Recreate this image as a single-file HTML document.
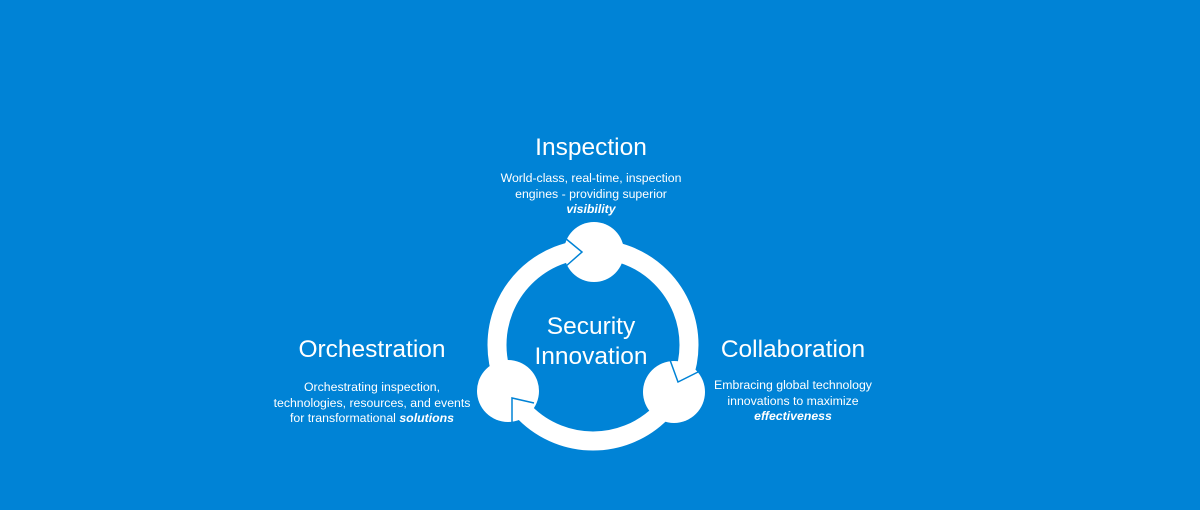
<!DOCTYPE html>
<html><head><style>
body{margin:0;width:1200px;height:510px;background:#0083d6;overflow:hidden;font-family:"Liberation Sans",Arial,sans-serif;color:#fff;position:relative}
.t{position:absolute;text-align:center;font-size:24.5px;white-space:nowrap;transform:translateX(-50%)}
.b{position:absolute;text-align:center;font-size:12.3px;line-height:15.5px;white-space:nowrap;transform:translateX(-50%)}
</style></head><body>
<svg width="1200" height="510" style="position:absolute;left:0;top:0">
<circle cx="593" cy="345" r="96" fill="none" stroke="#fff" stroke-width="19"/>
<circle cx="594" cy="252" r="30" fill="#fff"/>
<circle cx="674" cy="392" r="31" fill="#fff"/>
<circle cx="508" cy="391" r="31" fill="#fff"/>
<polyline points="565,238 582,252 565,267" fill="none" stroke="#0083d6" stroke-width="1.5"/>
<polyline points="670,360 678,382 698,372" fill="none" stroke="#0083d6" stroke-width="1.5"/>
<polyline points="512,422 512,398 534,403" fill="none" stroke="#0083d6" stroke-width="1.5"/>
</svg>
<div class="t" style="left:591px;top:134px">Inspection</div>
<div class="b" style="left:591px;top:171px">World-class, real-time, inspection<br>engines - providing superior<br><b><i>visibility</i></b></div>
<div class="t" style="left:591px;top:312px;line-height:30px">Security<br>Innovation</div>
<div class="t" style="left:372px;top:336px">Orchestration</div>
<div class="b" style="left:372px;top:380px">Orchestrating inspection,<br>technologies, resources, and events<br>for transformational <b><i>solutions</i></b></div>
<div class="t" style="left:793px;top:336px">Collaboration</div>
<div class="b" style="left:793px;top:378px">Embracing global technology<br>innovations to maximize<br><b><i>effectiveness</i></b></div>
</body></html>
